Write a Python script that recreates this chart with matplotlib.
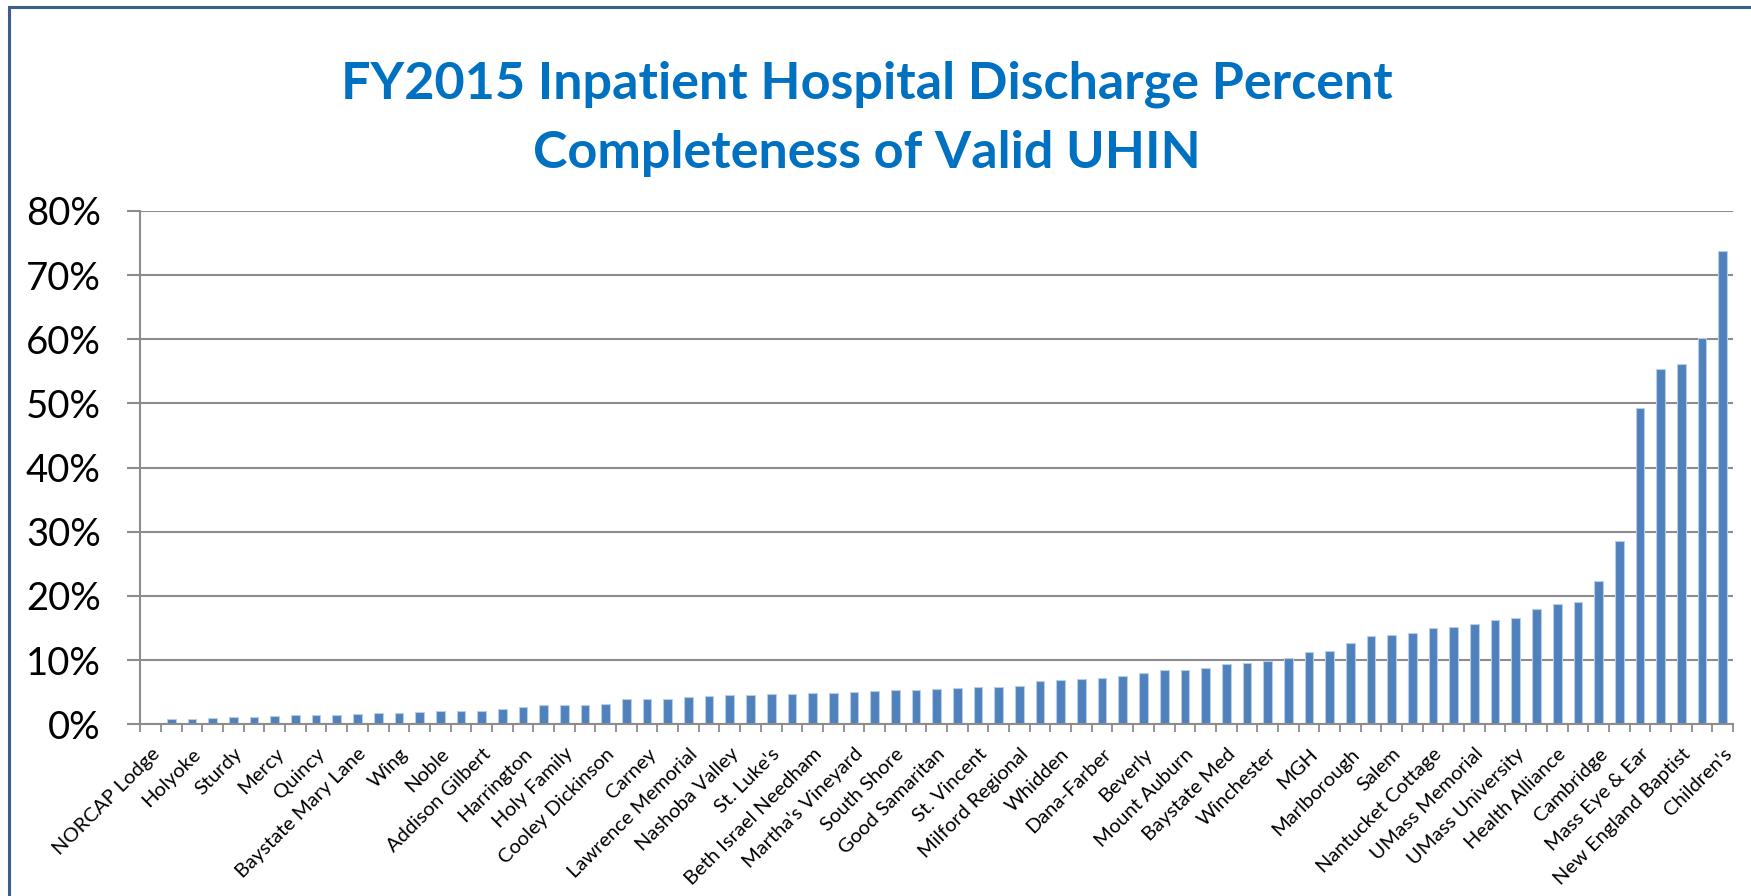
import numpy as np
import matplotlib.pyplot as plt
from matplotlib.patches import Rectangle
from matplotlib.ticker import FixedLocator, PercentFormatter

# completeness of valid UHIN, percent, sorted ascending (77 hospitals)
values = [
    0.0, 0.9, 0.9, 1.05, 1.1, 1.15, 1.3, 1.4, 1.45, 1.45,
    1.6, 1.75, 1.75, 1.9, 2.0, 2.05, 2.1, 2.35, 2.7, 2.95,
    2.95, 3.0, 3.2, 3.95, 4.0, 4.0, 4.2, 4.35, 4.55, 4.55,
    4.65, 4.75, 4.9, 4.95, 5.0, 5.2, 5.3, 5.4, 5.55, 5.7,
    5.85, 5.85, 5.95, 6.7, 6.85, 7.1, 7.15, 7.45, 8.0, 8.45,
    8.5, 8.85, 9.45, 9.55, 9.8, 10.4, 11.3, 11.4, 12.7, 13.7,
    13.9, 14.3, 15.0, 15.1, 15.7, 16.3, 16.5, 18.0, 18.7, 19.0,
    22.3, 28.6, 49.3, 55.4, 56.1, 60.2, 73.8,
]

# only every other hospital is labelled on the axis
shown_labels = [
    "NORCAP Lodge", "Holyoke", "Sturdy", "Mercy", "Quincy",
    "Baystate Mary Lane", "Wing", "Noble", "Addison Gilbert", "Harrington",
    "Holy Family", "Cooley Dickinson", "Carney", "Lawrence Memorial",
    "Nashoba Valley", "St. Luke's", "Beth Israel Needham", "Martha's Vineyard",
    "South Shore", "Good Samaritan", "St. Vincent", "Milford Regional",
    "Whidden", "Dana-Farber", "Beverly", "Mount Auburn", "Baystate Med",
    "Winchester", "MGH", "Marlborough", "Salem", "Nantucket Cottage",
    "UMass Memorial", "UMass University", "Health Alliance", "Cambridge",
    "Mass Eye & Ear", "New England Baptist", "Children's",
]

title_lines = ["FY2015 Inpatient Hospital Discharge Percent",
               "Completeness of Valid UHIN"]

plt.rcParams['font.family'] = ['Lato', 'DejaVu Sans']

W, H = 1751, 896
fig = plt.figure(figsize=(W / 100, H / 100), dpi=100)

# chart border (left and top edges visible)
fig.patches.append(Rectangle((9 / W, -0.05), 1.2, 1 - 7 / H + 0.05,
                             transform=fig.transFigure, fill=False,
                             edgecolor='#3B5E8C', linewidth=2.2))

ax = fig.add_axes([140.3 / W, 1 - 724.3 / H, (1733 - 140.3) / W, (724.3 - 211) / H])

x = np.arange(len(values))
ax.bar(x, np.array(values) / 100, width=0.42, color='#4F81BD',
       edgecolor='#B9CDE5', linewidth=0.8, zorder=3)

ax.set_xlim(-0.5, len(values) - 0.5)
ax.set_ylim(0, 0.8)
ax.yaxis.set_major_locator(FixedLocator(np.arange(0, 0.81, 0.1)))
ax.yaxis.set_major_formatter(PercentFormatter(1.0, decimals=0))
ax.grid(axis='y', color='#8C8C8C', linewidth=1.5, zorder=0)

ax.set_xticks(x[::2])
ax.set_xticklabels(shown_labels, rotation=45, ha='right',
                   rotation_mode='anchor', fontsize=14.5)
ax.set_xticks(np.arange(-0.5, len(values), 1.0), minor=True)
ax.tick_params(axis='x', which='major', length=0, pad=15)
ax.tick_params(axis='x', which='minor', length=6, width=1.3, color='#8C8C8C')
ax.tick_params(axis='y', length=9.5, width=1.5, color='#8C8C8C',
               labelsize=27.5, pad=19)

for side in ['top', 'right']:
    ax.spines[side].set_visible(False)
for side in ['left', 'bottom']:
    ax.spines[side].set_color('#8C8C8C')
    ax.spines[side].set_linewidth(1.5)
    ax.spines[side].set_zorder(4)

fig.text(867 / W, 1 - 99 / H, title_lines[0], ha='center', va='baseline',
         fontsize=37.5, fontweight='bold', color='#0070C0')
fig.text(867 / W, 1 - 168 / H, title_lines[1], ha='center', va='baseline',
         fontsize=37.5, fontweight='bold', color='#0070C0')

fig.savefig('out.png', dpi=100)
